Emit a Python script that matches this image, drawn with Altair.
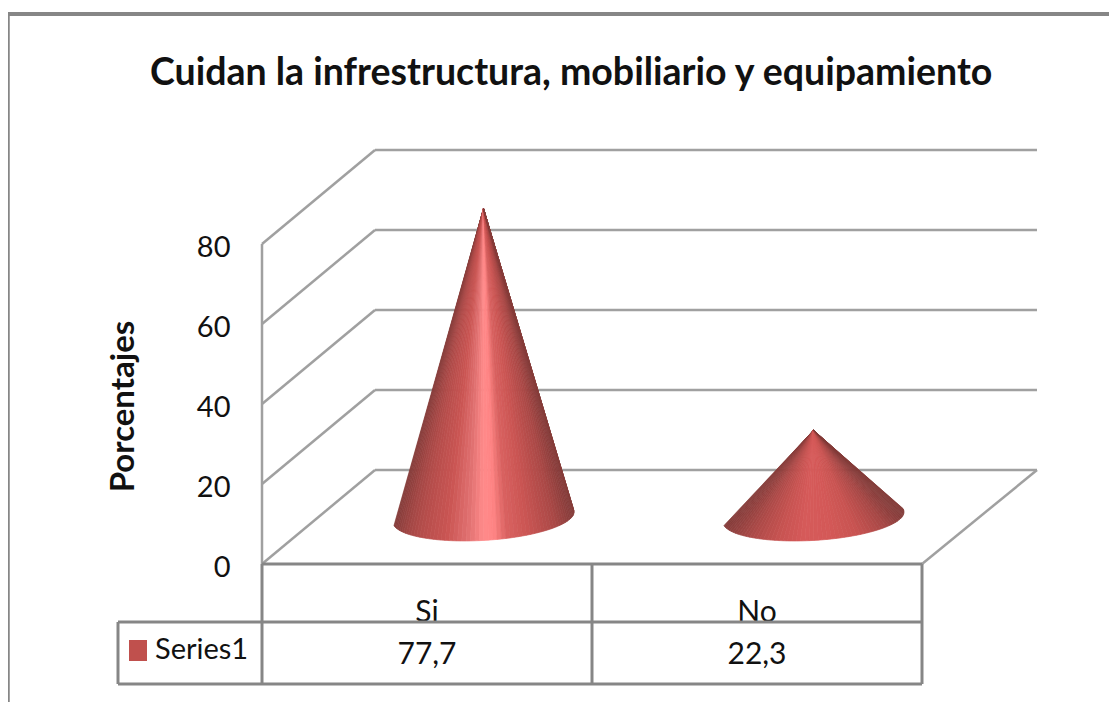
import altair as alt
import numpy as np
import pandas as pd

TITLE = "Cuidan la infrestructura, mobiliario y equipamiento"
AXIS_TITLE = "Porcentajes"
categories = ["Si", "No"]
values = [77.7, 22.3]
value_labels = ["77,7", "22,3"]
series_name = "Series1"
y_ticks = [0, 20, 40, 60, 80]
cat_pos = [0.5, 1.5]

FONT = "Lato"
INK = "#111111"
LINE = "#868686"
GRID = "#a0a0a0"
SWATCH = "#c0504d"

si_stops = [(0, "#843c3a"), (.07, "#a04644"), (.15, "#b54d4b"), (.30, "#cb5654"), (.42, "#e27272"),
            (.50, "#ff8a8a"), (.56, "#ff8585"), (.63, "#da6261"), (.75, "#ca5553"), (.90, "#ab4947"), (1, "#863d3b")]
no_stops = [(0, "#843c3a"), (.15, "#ac4a48"), (.30, "#c75351"), (.45, "#d65a5a"),
            (.60, "#d45958"), (.75, "#c85351"), (.90, "#a84846"), (1, "#843c3a")]
stops = [si_stops, no_stops]

# scale: one category = 330 px, one percent = 4 px
UX, UY = 330.0, 4.0
DEPTH_X, DEPTH_Y = 113 / UX, 94 / UY
X_MAX = 775 / UX
Y_MAX = 413 / UY
PLOT_L, PLOT_ZERO = 262.0, 564.0
APEX_SOFTEN = 0.6  # the drawn apex fades out just under its true height


def vx(px):
    return (px - PLOT_L) / UX


def vy(py):
    return (PLOT_ZERO - py) / UY


xs = alt.Scale(domain=[0, X_MAX], range=[0, 775], nice=False, zero=False)
ys = alt.Scale(domain=[0, Y_MAX], range=[413, 0], nice=False, zero=False)
X = lambda f: alt.X(f, type="quantitative", scale=xs, axis=None)
Y = lambda f: alt.Y(f, type="quantitative", scale=ys, axis=None)


def segs(rows):
    return pd.DataFrame(rows, columns=["x", "y", "x2", "y2"])


def rules(rows, color, width):
    return alt.Chart(segs(rows)).mark_rule(color=color, strokeWidth=width).encode(
        x=X("x"), y=Y("y"), x2="x2:Q", y2="y2:Q")


# walls and floor
grid = []
for t in y_ticks:
    grid.append((0, t, DEPTH_X, t + DEPTH_Y))
    grid.append((DEPTH_X, t + DEPTH_Y, X_MAX, t + DEPTH_Y))
grid.append((2, 0, X_MAX, DEPTH_Y))
grid.append((0, 0, 0, y_ticks[-1]))
grid_layer = rules(grid, GRID, 2.5)

# outer frame
frame_layer = alt.layer(
    rules([(vx(8), vy(14), vx(1109), vy(14))], LINE, 4),
    rules([(vx(8.5), vy(14), vx(8.5), vy(702))], LINE, 2.5),
)

axis_layer = alt.Chart(pd.DataFrame({"x": [0.0], "y": [0.0]})).mark_point(opacity=0).encode(
    x=X("x"),
    y=alt.Y("y", type="quantitative", scale=ys, title=AXIS_TITLE, axis=alt.Axis(
        values=y_ticks, grid=False, domain=False, ticks=False, labelFont=FONT, labelFontSize=29,
        labelColor=INK, labelPadding=32, labelOffset=3, titleFont=FONT, titleFontSize=33,
        titleFontWeight="bold", titleColor=INK, titleX=-139, titleY=255, titleAngle=270,
        titleAlign="center", titleBaseline="middle")),
)


# cones: a fan of thin slices from the tip to the base rim, each with its shade
def shade(f, st):
    pos = [p for p, _ in st]
    cols = [[int(c[i:i + 2], 16) for i in (1, 3, 5)] for _, c in st]
    rgb = [np.interp(f, pos, [c[k] for c in cols]) for k in range(3)]
    return "#%02x%02x%02x" % tuple(int(round(v)) for v in rgb)


BASE_UX, BASE_UY = 89.5 / UX, 8.5 / UY
BASE_VX, BASE_VY = 13.6 / UX, -22.4 / UY
rows = []
N = 64
for ci, (pos, val) in enumerate(zip(cat_pos, values)):
    cx, cy = pos + DEPTH_X / 2, DEPTH_Y / 2
    tip = (cx, cy + val - APEX_SOFTEN)
    ts = np.linspace(0, np.pi, N + 1)
    px = cx - BASE_UX * np.cos(ts) + BASE_VX * np.sin(ts)
    py = cy - BASE_UY * np.cos(ts) + BASE_VY * np.sin(ts)
    xl, xr = cx - BASE_UX, cx + BASE_UX
    for i in range(N):
        f = float(np.clip(((px[i] + px[i + 1]) / 2 - xl) / (xr - xl), 0, 1))
        col = shade(f, stops[ci])
        pts = sorted([tip, (px[i], py[i]), (px[i + 1], py[i + 1])])
        (x0, y0), (x1, y1), (x2, y2) = pts
        ym = y0 + (y2 - y0) * ((x1 - x0) / (x2 - x0) if x2 > x0 else 0)
        wid = f"{ci}-{i:03d}"
        rows += [dict(w=wid, c=col, x=x0, y=y0, y2=y0),
                 dict(w=wid, c=col, x=x1, y=y1, y2=ym),
                 dict(w=wid, c=col, x=x2, y=y2, y2=y2)]

cone_layer = alt.Chart(pd.DataFrame(rows)).mark_area(orient="vertical", strokeWidth=0.7).encode(
    x=X("x"), y=Y("y"), y2="y2:Q",
    detail="w:N",
    color=alt.Color("c:N", scale=None),
    stroke=alt.Stroke("c:N", scale=None),
)


def texts(xv, yv, labels, size=30, align="center", baseline="middle"):
    d = pd.DataFrame({"x": xv, "y": yv, "t": labels})
    return alt.Chart(d).mark_text(font=FONT, fontSize=size, color=INK, align=align, baseline=baseline).encode(
        x=X("x"), y=Y("y"), text="t:N")


# category labels sit low in their cell and are cut by the row line
cat_text = texts(cat_pos, [vy(622)] * 2, categories, baseline="alphabetic")
cover = alt.Chart(pd.DataFrame({"x": [vx(262)], "x2": [vx(922)], "y": [vy(623)], "y2": [vy(640)]})).mark_rect(
    color="white").encode(x=X("x"), x2="x2:Q", y=Y("y"), y2="y2:Q")
val_text = texts(cat_pos, [vy(655)] * 2, value_labels)
leg_text = texts([vx(155)], [vy(650)], [series_name], size=29, align="left")
swatch = alt.Chart(pd.DataFrame({"x": [vx(129)], "x2": [vx(147)], "y": [vy(640)], "y2": [vy(661)]})).mark_rect(
    color=SWATCH).encode(x=X("x"), x2="x2:Q", y=Y("y"), y2="y2:Q")

tz, tr, tb = 0, vy(622), vy(684)
xl = vx(118)
table_layer = rules([
    (0, tz, 2, tz),
    (xl, tr, 2, tr),
    (xl, tb, 2, tb),
    (xl, tr, xl, tb),
    (0, tz, 0, tb),
    (1, tz, 1, tb),
    (2, tz, 2, tb),
], LINE, 3)

chart = alt.layer(
    axis_layer, frame_layer, grid_layer, cone_layer, cat_text, cover, val_text, leg_text, swatch, table_layer,
).resolve_axis(y="independent").properties(
    width=775,
    height=413,
    padding={"left": 254, "top": 143, "right": 72, "bottom": 138},
    autosize="none",
    background="white",
    title=alt.TitleParams(TITLE, font=FONT, fontSize=37.5, fontWeight="bold", color=INK, anchor="start",
                          dx=-112, offset=-110, baseline="alphabetic", frame="group"),
).configure_view(stroke=None)

chart.save("out.html", embed_options={"renderer": "svg", "actions": False})
